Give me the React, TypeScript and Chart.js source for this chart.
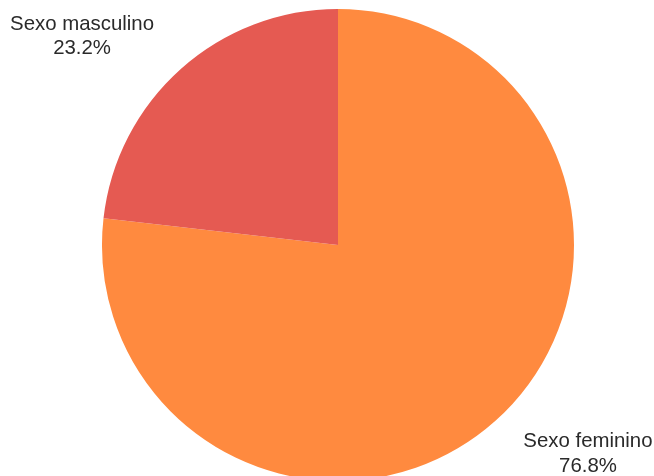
import React, { useEffect, useRef } from "react";
import { Chart, registerables } from "chart.js";

Chart.register(...registerables);

const categories = ["Sexo feminino", "Sexo masculino"];
const values = [76.8, 23.2];
const colors = ["#FF8A3F", "#E55A52"];

const labelPlugin = {
  id: "outerLabels",
  afterDatasetsDraw(chart: any) {
    const ctx = chart.ctx;
    const meta = chart.getDatasetMeta(0);
    ctx.save();
    ctx.font = "20.4px 'Liberation Sans', Arial, sans-serif";
    ctx.fillStyle = "#2a2a2a";
    ctx.textAlign = "center";
    ctx.textBaseline = "middle";
    meta.data.forEach((arc: any, i: number) => {
      const p = arc.getProps(["x", "y", "startAngle", "endAngle", "outerRadius"], true);
      const mid = (p.startAngle + p.endAngle) / 2 - (8.7 * Math.PI) / 180;
      const r = p.outerRadius + 92;
      const x = p.x + Math.cos(mid) * r - 3;
      const y = p.y + Math.sin(mid) * r;
      ctx.fillText(categories[i], x, y - 12);
      ctx.fillText(values[i].toFixed(1) + "%", x, y + 12.5);
    });
    ctx.restore();
  },
};

export default function App() {
  const ref = useRef<HTMLCanvasElement>(null);
  useEffect(() => {
    if (!ref.current) return;
    const chart = new Chart(ref.current, {
      type: "pie",
      data: {
        labels: categories,
        datasets: [
          {
            data: values,
            backgroundColor: colors,
            borderWidth: 0,
          },
        ],
      },
      options: {
        responsive: false,
        animation: false,
        radius: 236,
        layout: { padding: { left: 22, right: 0, top: 14, bottom: 0 } },
        plugins: {
          legend: { display: false },
          tooltip: { enabled: false },
        },
      } as any,
      plugins: [labelPlugin],
    });
    return () => chart.destroy();
  }, []);
  return (
    <div style={{ position: "absolute", left: 0, top: 0, width: 654, height: 476, background: "#fff" }}>
      <canvas ref={ref} width={654} height={476} style={{ width: 654, height: 476 }} />
    </div>
  );
}
